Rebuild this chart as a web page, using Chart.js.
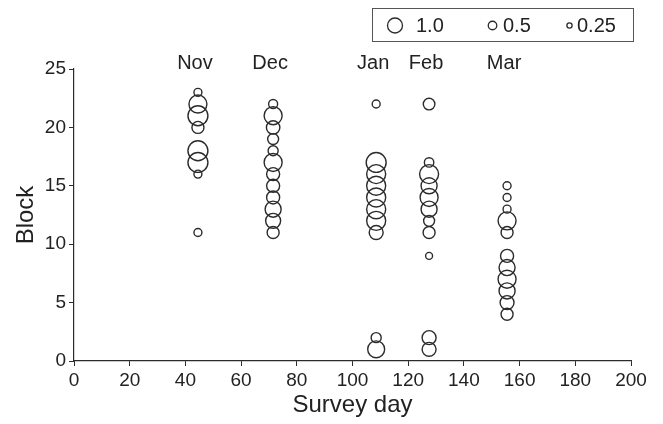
<!DOCTYPE html>
<html>
<head>
<meta charset="utf-8">
<script src="https://cdn.jsdelivr.net/npm/chart.js@4/dist/chart.umd.min.js"></script>
<style>
  html, body { margin: 0; padding: 0; background: #fff; }
  #wrap { width: 663px; height: 424px; }
</style>
</head>
<body>
<div id="wrap"><canvas id="survey" width="663" height="424"></canvas></div>
<script>
// survey months and the day each was sampled
var months = ['Nov', 'Dec', 'Jan', 'Feb', 'Mar']
var surveyDays = [44.5, 71.5, 108.5, 127.5, 155.5]

// blocks recorded on each survey, and the proportion (bubble size) for each
var blocksNov = [23, 22, 21, 20, 18, 17, 16, 11]
var propNov   = [0.46, 1.23, 1.38, 0.77, 1.38, 1.38, 0.46, 0.46]

var blocksDec = [22, 21, 20, 19, 18, 17, 16, 15, 14, 13, 12, 11]
var propDec   = [0.54, 1.23, 0.88, 0.69, 0.62, 1.23, 0.85, 0.85, 0.85, 1.08, 1.0, 0.77]

var blocksJan = [22, 17, 16, 15, 14, 13, 12, 11, 2, 1]
var propJan   = [0.46, 1.38, 1.31, 1.31, 1.31, 1.31, 1.31, 0.92, 0.62, 1.15]

var blocksFeb = [22, 17, 16, 15, 14, 13, 12, 11, 9, 2, 1]
var propFeb   = [0.74, 0.57, 1.31, 1.08, 1.23, 1.08, 0.69, 0.77, 0.38, 0.92, 0.92]

var blocksMar = [15, 14, 13, 12, 11, 9, 8, 7, 6, 5, 4]
var propMar   = [0.46, 0.46, 0.46, 1.23, 0.77, 0.85, 1.08, 1.23, 1.08, 0.92, 0.77]

var legendValues = [1.0, 0.5, 0.25]
var legendLabels = ['1.0', '0.5', '0.25']

var xTicks = [0, 20, 40, 60, 80, 100, 120, 140, 160, 180, 200]
var yTicks = [0, 5, 10, 15, 20, 25]

var allBlocks = [blocksNov, blocksDec, blocksJan, blocksFeb, blocksMar]
var allProps = [propNov, propDec, propJan, propFeb, propMar]

var FONT = "'Liberation Sans', Arial, Helvetica, sans-serif"
var INK = '#2b2b2b'
var TXT = '#222'

function rad(p) { return 1 + 6.5 * p }

var datasets = months.map(function (m, i) {
  return {
    label: m,
    data: allBlocks[i].map(function (b, j) {
      return { x: surveyDays[i], y: b, r: rad(allProps[i][j]) }
    }),
    backgroundColor: 'rgba(0,0,0,0)',
    borderColor: INK,
    borderWidth: 1.4,
    hoverBorderWidth: 1.4,
    clip: false
  }
})

// month names above each column + the size key box
var extras = {
  id: 'extras',
  afterDraw: function (chart) {
    var c = chart.ctx
    var xs = chart.scales.x
    var top = chart.chartArea.top
    c.save()
    c.fillStyle = TXT
    c.font = '20px ' + FONT
    c.textAlign = 'center'
    c.textBaseline = 'middle'
    months.forEach(function (m, i) {
      c.fillText(m, xs.getPixelForValue(surveyDays[i]) - 3, top - 6)
    })

    // key box
    c.strokeStyle = '#555'
    c.lineWidth = 1
    c.strokeRect(372.5, 8.5, 261, 33)
    var itemX = [395, 492.5, 569.5]
    var textX = [416, 503, 577]
    c.textAlign = 'left'
    c.strokeStyle = INK
    c.lineWidth = 1.3
    legendValues.forEach(function (v, i) {
      c.beginPath()
      c.arc(itemX[i], 25.5, rad(v), 0, Math.PI * 2)
      c.stroke()
      c.fillText(legendLabels[i], textX[i], 26)
    })
    c.restore()
  }
}

new Chart(document.getElementById('survey'), {
  type: 'bubble',
  data: { datasets: datasets },
  plugins: [extras],
  options: {
    responsive: false,
    animation: false,
    events: [],
    layout: { padding: { top: 69, right: 32, bottom: 0, left: 8 } },
    plugins: { legend: { display: false }, tooltip: { enabled: false } },
    scales: {
      x: {
        type: 'linear',
        min: 0, max: 200,
        afterBuildTicks: function (s) { s.ticks = xTicks.map(function (v) { return { value: v } }) },
        afterFit: function (s) { s.height = 63 },
        grid: { drawOnChartArea: false, drawTicks: true, tickLength: 5, color: INK },
        border: { color: INK, width: 1.2 },
        ticks: { color: TXT, font: { family: FONT, size: 19 }, padding: 3, maxRotation: 0 },
        title: { display: true, text: 'Survey day', color: TXT, font: { family: FONT, size: 24 }, padding: { top: 0 } }
      },
      y: {
        type: 'linear',
        min: 0, max: 25,
        afterBuildTicks: function (s) { s.ticks = yTicks.map(function (v) { return { value: v } }) },
        afterFit: function (s) { s.width = 66 },
        grid: { drawOnChartArea: false, drawTicks: true, tickLength: 5, color: INK },
        border: { color: INK, width: 1.2 },
        ticks: { color: TXT, font: { family: FONT, size: 19 }, padding: 3 },
        title: { display: true, text: 'Block', color: TXT, font: { family: FONT, size: 24 }, padding: { bottom: 0 } }
      }
    }
  }
})
</script>
</body>
</html>
